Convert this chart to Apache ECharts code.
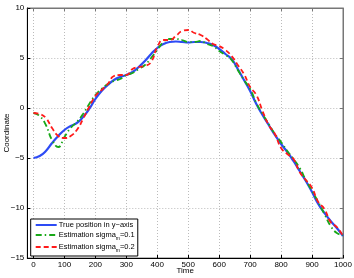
<!DOCTYPE html>
<html><head><meta charset="utf-8">
<script src="https://cdn.jsdelivr.net/npm/echarts@6/dist/echarts.min.js"></script>
<style>html,body{margin:0;padding:0;background:#fff}#c{width:354px;height:278px}</style>
</head><body><div id="c"></div>
<script>
var times = [0,20,40,60,80,100,120,140,160,180,200,220,240,260,280,300,320,340,360,380,400,420,440,460,480,500,520,540,560,580,600,620,640,660,680,700,720,740,760,780,800,820,840,860,880,900,920,940,960,980,1000];
var truePos = [-5.0,-4.8,-4.3,-3.5,-2.8,-2.2,-1.8,-1.5,-0.9,-0.1,0.9,1.7,2.3,2.8,3.1,3.3,3.6,4.1,4.7,5.4,6.0,6.4,6.6,6.65,6.6,6.55,6.6,6.6,6.5,6.3,5.9,5.4,4.9,3.9,2.8,1.7,0.4,-0.7,-1.7,-2.7,-3.6,-4.4,-5.3,-6.3,-7.3,-8.4,-9.6,-10.5,-11.3,-12.0,-12.8];
var est01 = [-0.5,-0.8,-1.7,-3.2,-3.9,-2.9,-2.0,-1.4,-0.6,0.4,1.3,1.9,2.4,2.7,2.9,3.3,3.5,3.9,4.3,5.0,5.8,6.6,6.9,6.9,6.8,6.6,6.6,6.7,6.4,6.2,5.7,5.3,4.8,3.8,2.8,1.9,0.5,-0.6,-1.6,-2.6,-3.4,-4.3,-5.1,-6.0,-7.2,-8.3,-9.4,-10.6,-11.8,-12.5,-12.7];
var est02 = [-0.5,-0.6,-1.0,-2.0,-2.8,-3.0,-2.8,-2.2,-1.1,0.1,1.2,1.8,2.4,3.2,3.3,3.3,3.9,4.1,4.2,4.6,6.1,6.8,6.8,7.2,7.7,7.8,7.5,7.3,6.9,6.4,6.2,5.8,5.2,4.3,3.4,2.1,1.3,-0.3,-1.7,-2.6,-4.0,-4.6,-5.1,-6.4,-7.2,-8.0,-9.4,-10.1,-11.4,-11.9,-12.8];
var xTicks = [0,100,200,300,400,500,600,700,800,900,1000];
var yTicks = [-15,-10,-5,0,5,10];
var names = ['True position in y\u2212axis','Estimation sigma_m=0.1','Estimation sigma_m=0.2'];

function pairs(vals){ return times.map(function(t,i){ return [t, vals[i]]; }); }
var font = 'Liberation Sans';
var chart = echarts.init(document.getElementById('c'), null, {renderer:'canvas'});
var gridLine = {show:true, lineStyle:{color:'#bbb', type:[1,2], width:1}};
chart.setOption({
  animation:false,
  grid:{left:27.3, right:11, top:8, bottom:20, outerBoundsMode:'none', containLabel:false,
        show:true, borderColor:'#777', borderWidth:1, backgroundColor:'#fff'},
  xAxis:[{
    type:'value', min:-20, max:1000,
    name:'Time', nameLocation:'middle', nameGap:9, nameMoveOverlap:false,
    nameTextStyle:{fontFamily:font, fontSize:8, color:'#000', verticalAlign:'top'},
    axisLine:{show:true, onZero:false, lineStyle:{color:'#000'}},
    axisTick:{show:true, inside:true, length:3, customValues:xTicks, lineStyle:{color:'#000'}},
    axisLabel:{customValues:xTicks, fontFamily:font, fontSize:8, color:'#000', margin:3,
      formatter:function(v){ return String(v); }},
    splitLine:gridLine
  },{
    type:'value', min:-20, max:1000, position:'top',
    axisLine:{show:true, onZero:false, lineStyle:{color:'#777'}},
    axisTick:{show:true, inside:true, length:3, customValues:xTicks, lineStyle:{color:'#777'}},
    axisLabel:{show:false}, splitLine:{show:false}
  }],
  yAxis:[{
    type:'value', min:-15, max:10, interval:5,
    name:'Coordinate', nameLocation:'middle', nameGap:17, nameMoveOverlap:false,
    nameTextStyle:{fontFamily:font, fontSize:8, color:'#000'},
    axisLine:{show:true, onZero:false, lineStyle:{color:'#000'}},
    axisTick:{show:true, inside:true, length:3, lineStyle:{color:'#000'}},
    axisLabel:{fontFamily:font, fontSize:8, color:'#000', margin:3,
      formatter:function(v){ return String(v).replace('-','\u2212'); }},
    splitLine:gridLine
  },{
    type:'value', min:-15, max:10, interval:5, position:'right',
    axisLine:{show:true, onZero:false, lineStyle:{color:'#777'}},
    axisTick:{show:true, inside:true, length:3, lineStyle:{color:'#777'}},
    axisLabel:{show:false}, splitLine:{show:false}
  }],
  legend:{
    orient:'vertical', left:30.7, top:219,
    backgroundColor:'#fff', borderColor:'#000', borderWidth:1, borderRadius:0,
    padding:[2,3,3,4], itemGap:2, itemWidth:21, itemHeight:8,
    itemStyle:{opacity:0},
    textStyle:{fontFamily:font, fontSize:7.5, color:'#000', padding:[0,0,0,-3],
      rich:{a:{fontFamily:font, fontSize:7.5, color:'#000'}, s:{fontFamily:font, fontSize:5, color:'#000', verticalAlign:'bottom', padding:[7,0,0,0]}}},
    formatter:function(n){
      var i = names.indexOf(n);
      if(i===0) return n;
      var parts = n.split('_m');
      return '{a|'+parts[0]+'}{s|m}{a|'+parts[1]+'}';
    },
    data:names
  },
  series:[
    {name:names[0], type:'line', smooth:true, showSymbol:false, symbol:'none', data:pairs(truePos),
     lineStyle:{color:'#2d4bf5', width:2.2}, itemStyle:{color:'#2d4bf5'}, z:2},
    {name:names[1], type:'line', smooth:true, showSymbol:false, symbol:'none', data:pairs(est01),
     lineStyle:{color:'#18a818', width:1.8, type:[6,3,1.5,3]}, itemStyle:{color:'#18a818'}, z:3},
    {name:names[2], type:'line', smooth:true, showSymbol:false, symbol:'none', data:pairs(est02),
     lineStyle:{color:'#ff1a1a', width:1.8, type:[5,3]}, itemStyle:{color:'#ff1a1a'}, z:4}
  ]
});
</script></body></html>
